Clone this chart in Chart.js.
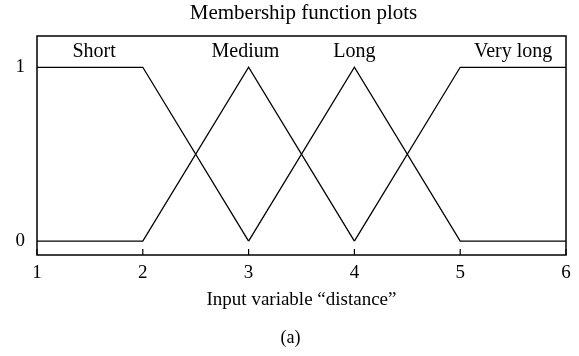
<!DOCTYPE html>
<html>
<head>
<meta charset="utf-8">
<script src="https://cdn.jsdelivr.net/npm/chart.js@4"></script>
<style>
  html, body { margin: 0; padding: 0; background: #fff; }
  #wrap { width: 579px; height: 356px; }
</style>
</head>
<body>
<div id="wrap"><canvas id="mfChart" width="579" height="356"></canvas></div>
<script>
// Membership functions (x, y) corner points
const shortPts = [[1, 1], [2, 1], [3, 0]];
const mediumPts = [[1, 0], [2, 0], [3, 1], [4, 0]];
const longPts = [[3, 0], [4, 1], [5, 0], [6, 0]];
const veryLongPts = [[4, 0], [5, 1], [6, 1]];

const setNames = ['Short', 'Medium', 'Long', 'Very long'];
const labelX = [1.54, 2.97, 4.0, 5.5]; // where each name sits along x
const labelY = 1.09;

const xTicks = [1, 2, 3, 4, 5, 6];
const yTicks = [0, 1];

const chartTitle = 'Membership function plots';
const xTitle = 'Input variable \u201Cdistance\u201D';
const panelTag = '(a)';

const serif = '"Liberation Serif", "DejaVu Serif", serif';

function toXY(pts) {
    return pts.map(p => ({ x: p[0], y: p[1] }));
}

// box around the plot, inward x ticks, the set names and the texts
const boxPlugin = {
    id: 'boxPlugin',
    afterDraw(chart) {
        const ctx = chart.ctx;
        const a = chart.chartArea;
        const xs = chart.scales.x;
        const ys = chart.scales.y;
        const midX = (a.left + a.right) / 2;
        ctx.save();
        ctx.strokeStyle = '#000';
        ctx.lineWidth = 1.5;
        ctx.strokeRect(a.left, a.top, a.right - a.left, a.bottom - a.top);

        ctx.lineWidth = 1.2;
        xTicks.forEach(v => {
            const px = xs.getPixelForValue(v);
            ctx.beginPath();
            ctx.moveTo(px, a.bottom);
            ctx.lineTo(px, a.bottom - 6);
            ctx.stroke();
        });

        ctx.fillStyle = '#000';
        ctx.textAlign = 'center';
        ctx.textBaseline = 'middle';
        ctx.font = '20px ' + serif;
        setNames.forEach((name, i) => {
            ctx.fillText(name, xs.getPixelForValue(labelX[i]), ys.getPixelForValue(labelY));
        });

        ctx.font = '21px ' + serif;
        ctx.fillText(chartTitle, midX + 2, 13);
        ctx.font = '19px ' + serif;
        ctx.fillText(xTitle, midX, 300);
        ctx.font = '18px ' + serif;
        ctx.fillText(panelTag, midX - 11, 338);
        ctx.restore();
    }
};

const ctx = document.getElementById('mfChart').getContext('2d');
new Chart(ctx, {
    type: 'line',
    data: {
        datasets: [shortPts, mediumPts, longPts, veryLongPts].map((pts, i) => ({
            label: setNames[i],
            data: toXY(pts),
            borderColor: '#000',
            borderWidth: 1.3,
            pointRadius: 0,
            fill: false,
            tension: 0
        }))
    },
    options: {
        responsive: false,
        animation: false,
        layout: { padding: { left: 0, right: 13, top: 36, bottom: 0 } },
        scales: {
            x: {
                type: 'linear',
                min: 1,
                max: 6,
                afterBuildTicks: s => { s.ticks = xTicks.map(v => ({ value: v })); },
                afterFit: s => { s.height = 101; },
                grid: { display: false, drawTicks: false },
                border: { display: false },
                ticks: { color: '#000', font: { family: serif, size: 19 }, padding: 7 }
            },
            y: {
                type: 'linear',
                min: -0.08,
                max: 1.18,
                afterBuildTicks: s => { s.ticks = yTicks.map(v => ({ value: v })); },
                afterFit: s => { s.width = 37; },
                grid: { display: false, drawTicks: false },
                border: { display: false },
                ticks: { color: '#000', font: { family: serif, size: 19 }, padding: 12 }
            }
        },
        plugins: {
            legend: { display: false },
            tooltip: { enabled: false },
            title: { display: false }
        }
    },
    plugins: [boxPlugin]
});
</script>
</body>
</html>
